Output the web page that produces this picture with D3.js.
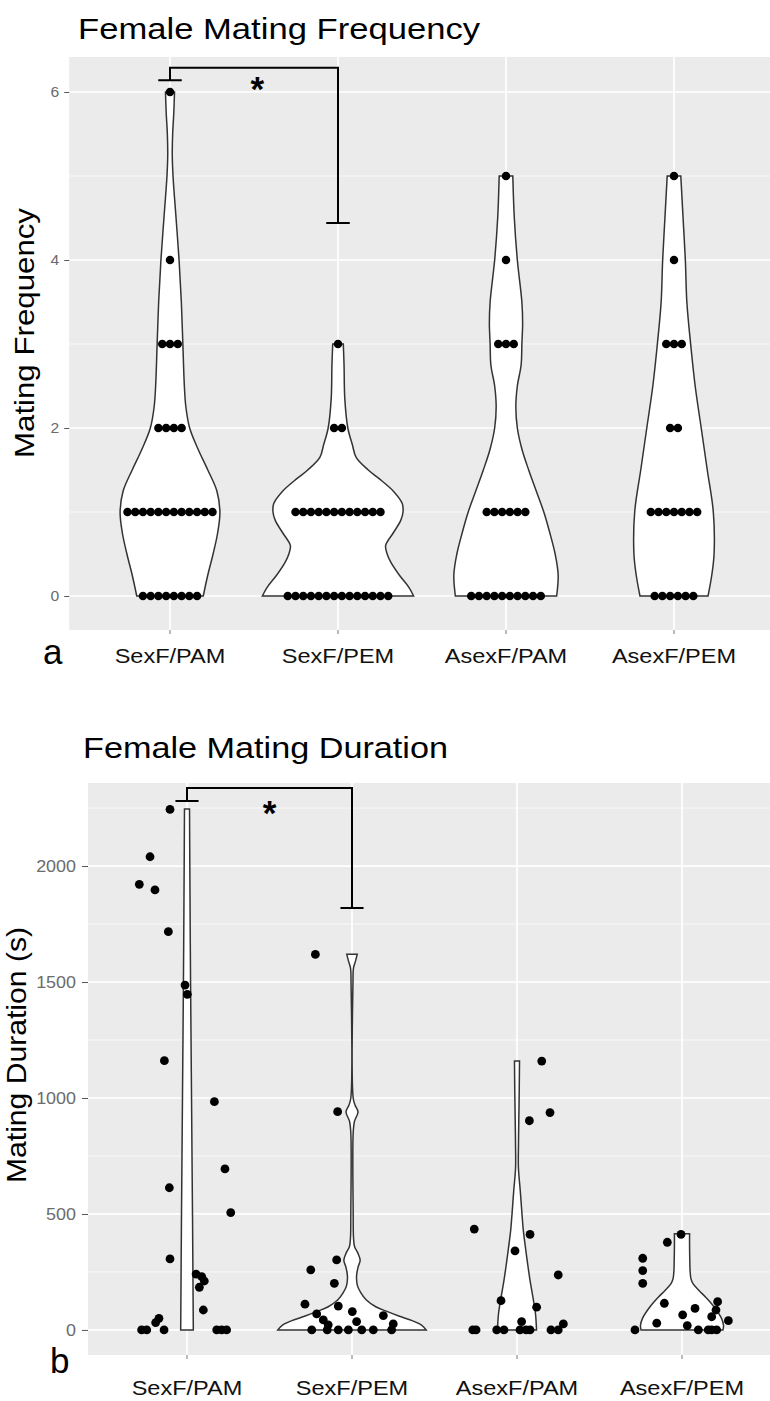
<!DOCTYPE html>
<html>
<head>
<meta charset="utf-8">
<script src="https://cdn.jsdelivr.net/npm/d3@7"></script>
<style>
  body { margin: 0; background: #fff; }
  svg text { font-family: "Liberation Sans", Arial, Helvetica, sans-serif; }
</style>
</head>
<body>
<svg id="chart" width="770" height="1401"></svg>
<script>
// ---- data ----
let categories = ["SexF/PAM", "SexF/PEM", "AsexF/PAM", "AsexF/PEM"];

// panel a: counts per mating-frequency level (dot plot)
let freqLevels  = [0, 1, 2, 3, 4, 5, 6];
let freqSexPAM  = [8, 12, 4, 3, 1, 0, 1];
let freqSexPEM  = [14, 12, 2, 1, 0, 0, 0];
let freqAsexPAM = [10, 6, 0, 3, 1, 1, 0];
let freqAsexPEM = [6, 7, 2, 3, 1, 1, 0];
let freqTicks = [0, 2, 4, 6];
let freqMinor = [1, 3, 5];

// violin outlines: [value, relative width]
let vFreqSexPAM  = [[0,0.44],[0.25,0.50],[0.5,0.57],[0.75,0.63],[1,0.66],[1.25,0.62],[1.5,0.50],[1.75,0.37],[2,0.26],[2.25,0.21],[2.5,0.19],[3,0.17],[3.5,0.15],[4,0.12],[4.5,0.08],[5,0.04],[5.25,0.03],[5.5,0.035],[5.75,0.05],[6,0.06]];
let vFreqSexPEM  = [[0,1.0],[0.1,0.94],[0.25,0.81],[0.4,0.70],[0.5,0.65],[0.6,0.63],[0.75,0.73],[0.9,0.83],[1,0.86],[1.1,0.85],[1.25,0.73],[1.4,0.54],[1.5,0.40],[1.65,0.24],[1.8,0.19],[2,0.13],[2.35,0.09],[2.75,0.08],[3,0.07]];
let vFreqAsexPAM = [[0,0.67],[0.25,0.69],[0.5,0.65],[0.75,0.58],[1,0.50],[1.25,0.40],[1.5,0.30],[1.75,0.21],[2,0.15],[2.25,0.13],[2.5,0.15],[2.75,0.20],[3,0.21],[3.25,0.22],[3.5,0.21],[4,0.15],[4.5,0.11],[5,0.09]];
let vFreqAsexPEM = [[0,0.45],[0.25,0.50],[0.5,0.53],[1,0.52],[1.5,0.44],[2,0.36],[2.5,0.28],[3,0.22],[3.5,0.17],[4,0.15],[4.5,0.12],[5,0.09]];

// panel b: mating duration (s), points as [jitter, value]
let durSexPAM  = [[-0.103,2244],[-0.224,2040],[-0.289,1921],[-0.194,1897],[-0.113,1717],[-0.012,1487],[0.002,1447],[-0.137,1161],[0.166,984],[0.230,694],[-0.107,613],[0.265,506],[-0.103,306],[0.055,241],[0.089,230],[0.105,211],[0.075,184],[0.099,86],[-0.170,50],[-0.190,32],[-0.275,0],[-0.244,0],[-0.139,0],[0.180,0],[0.210,0],[0.240,0]];
let durSexPEM  = [[-0.222,1619],[-0.087,941],[-0.093,302],[-0.25,259],[-0.107,201],[-0.285,111],[-0.083,103],[-0.214,69],[0.002,79],[0.19,62],[-0.174,43],[0.028,36],[-0.144,22],[0.25,26],[-0.244,0],[-0.15,0],[-0.083,0],[-0.022,0],[0.059,0],[0.129,0],[0.24,0]];
let durAsexPAM = [[0.15,1159],[0.2,937],[0.075,902],[-0.259,435],[0.079,412],[-0.012,341],[0.25,237],[-0.097,126],[0.119,98],[0.028,36],[0.281,26],[-0.268,0],[-0.248,0],[-0.123,0],[-0.079,0],[0.018,0],[0.055,0],[0.079,0],[0.206,0],[0.25,0]];
let durAsexPEM = [[-0.006,412],[-0.089,378],[-0.238,309],[-0.238,256],[-0.238,201],[-0.107,115],[0.079,93],[0.216,122],[0.206,86],[0.004,65],[0.18,57],[-0.153,29],[0.281,40],[0.032,19],[-0.285,0],[0.099,0],[0.159,0],[0.18,0],[0.21,0]];
let durTicks = [0, 500, 1000, 1500, 2000];
let durMinor = [250, 750, 1250, 1750, 2250];

let vDurSexPAM  = [[0,0.085],[500,0.074],[1000,0.061],[1500,0.048],[2000,0.038],[2246,0.034]];
let vDurSexPEM  = [[0,1.0],[20,0.94],[40,0.81],[60,0.63],[80,0.47],[100,0.32],[130,0.19],[160,0.12],[190,0.074],[230,0.061],[270,0.081],[300,0.11],[330,0.081],[360,0.034],[400,0.02],[500,0.016],[850,0.016],[900,0.034],[940,0.081],[970,0.04],[1000,0.016],[1500,0.013],[1560,0.02],[1590,0.047],[1620,0.071]];
let vDurAsexPAM = [[0,0.263],[70,0.249],[140,0.215],[215,0.175],[290,0.141],[360,0.112],[430,0.085],[500,0.067],[600,0.044],[700,0.019],[800,0.02],[900,0.024],[1030,0.03],[1160,0.034]];
let vDurAsexPEM = [[0,0.552],[20,0.559],[50,0.532],[100,0.431],[140,0.323],[170,0.229],[200,0.148],[220,0.121],[260,0.108],[300,0.105],[360,0.102],[415,0.102]];

// significance brackets: [from, to, top, leftEnd, rightEnd]
let freqBracket = [0, 1, 6.29, 6.14, 4.44];
let durBracket  = [0, 1, 2336, 2280, 1819];


// ---- layout ----
let kPanelA = { left: 69.2, right: 774.8, top: 57, bottom: 630, y0: 596, y6: 92 };
let kPanelB = { left: 88, right: 781, top: 783, bottom: 1355 };

let svg = d3.select("#chart");

function stretch(sel, sx){
  sel.each(function(){
    let w = this.getComputedTextLength();
    this.setAttribute("textLength", w * sx);
    this.setAttribute("lengthAdjust", "spacingAndGlyphs");
  });
}

function fitWidth(sel, w){
  sel.attr("textLength", w).attr("lengthAdjust", "spacingAndGlyphs");
}


function drawPanel(p){
  let g = svg.append("g");

  g.append("rect")
    .attr("x", p.x.range()[0]).attr("y", p.top)
    .attr("width", 770 - p.x.range()[0]).attr("height", p.bottom - p.top)
    .attr("fill", "#EBEBEB");

  // minor horizontal grid
  g.selectAll(".minor").data(p.minor).enter().append("line")
    .attr("x1", p.x.range()[0]).attr("x2", 770)
    .attr("y1", d => p.y(d)).attr("y2", d => p.y(d))
    .attr("stroke", "#fafafa").attr("stroke-width", 0.9);

  // major grid
  g.selectAll(".major").data(p.ticks).enter().append("line")
    .attr("x1", p.x.range()[0]).attr("x2", 770)
    .attr("y1", d => p.y(d)).attr("y2", d => p.y(d))
    .attr("stroke", "#fff").attr("stroke-width", 1.7);

  g.selectAll(".vmajor").data(categories).enter().append("line")
    .attr("x1", (d, i) => p.x(i)).attr("x2", (d, i) => p.x(i))
    .attr("y1", p.top).attr("y2", p.bottom)
    .attr("stroke", "#fff").attr("stroke-width", 1.7);

  // y axis
  let ay = g.append("g")
    .attr("transform", "translate(" + p.x.range()[0] + ",0)")
    .call(d3.axisLeft(p.y).tickValues(p.ticks).tickFormat(d3.format("d"))
      .tickSize(p.tickSize).tickPadding(p.tickPad));
  ay.select(".domain").remove();
  ay.selectAll(".tick line").attr("stroke", "#555").attr("stroke-width", 1);
  ay.selectAll(".tick text")
    .attr("fill", "#6b6b6b")
    .style("font-size", p.tickFont + "px")
    .style("font-family", "Liberation Sans, Arial, sans-serif");
  stretch(ay.selectAll(".tick text"), 1.12);

  // x ticks
  g.selectAll(".xtick").data(categories).enter().append("line")
    .attr("x1", (d, i) => p.x(i)).attr("x2", (d, i) => p.x(i))
    .attr("y1", p.bottom).attr("y2", p.bottom + 4)
    .attr("stroke", "#777").attr("stroke-width", 1);

  // x labels
  let xl = g.selectAll(".xlab").data(categories).enter().append("text")
    .attr("x", (d, i) => p.x(i)).attr("y", p.xLabelY)
    .attr("text-anchor", "middle")
    .style("font-size", "21px")
    .attr("fill", "#111")
    .text(d => d);
  stretch(xl, 1.12);

  // violins
  let wScale = d3.scaleLinear().domain([0, 1]).range([0, 0.45 * (p.x(1) - p.x(0))]);
  p.violins.forEach(function(prof, i){
    let cx = p.x(i);
    let area = d3.area()
      .curve(d3.curveCatmullRom)
      .y(d => p.y(d[0]))
      .x0(d => cx - wScale(d[1]))
      .x1(d => cx + wScale(d[1]));
    g.append("path")
      .attr("d", area(prof) + "Z")
      .attr("fill", "#fff")
      .attr("stroke", "#333")
      .attr("stroke-width", 1.5);
  });

  // bracket
  let b = p.bracket;
  let cap = 0.07;
  let path = d3.path();
  path.moveTo(p.x(b[0] - cap), p.y(b[3])); path.lineTo(p.x(b[0] + cap), p.y(b[3]));
  path.moveTo(p.x(b[0]), p.y(b[3]));       path.lineTo(p.x(b[0]), p.y(b[2]));
  path.lineTo(p.x(b[1]), p.y(b[2]));       path.lineTo(p.x(b[1]), p.y(b[4]));
  path.moveTo(p.x(b[1] - cap), p.y(b[4])); path.lineTo(p.x(b[1] + cap), p.y(b[4]));
  g.append("path").attr("d", path.toString())
    .attr("fill", "none").attr("stroke", "#000").attr("stroke-width", 2);

  g.append("text")
    .attr("x", p.x(p.starX)).attr("y", p.starY)
    .attr("text-anchor", "middle")
    .style("font-size", "35px").style("font-weight", "bold")
    .text("*");

  return g;
}


// ---- panel a ----
let xA = d3.scaleLinear().domain([-0.6, 3.6]).range([kPanelA.left, kPanelA.right]);
let yA = d3.scaleLinear().domain([0, 6]).range([kPanelA.y0, kPanelA.y6]);

let gA = drawPanel({
  x: xA, y: yA, top: kPanelA.top, bottom: kPanelA.bottom,
  ticks: freqTicks, minor: freqMinor, tickSize: 5, tickPad: 5, tickFont: 14,
  xLabelY: 663,
  violins: [vFreqSexPAM, vFreqSexPEM, vFreqAsexPAM, vFreqAsexPEM],
  bracket: freqBracket, starX: 0.52, starY: 101
});

// dot plot (binaxis y, stackdir center)
let binwidth = 0.092;
let dotD = yA(0) - yA(binwidth);
[freqSexPAM, freqSexPEM, freqAsexPAM, freqAsexPEM].forEach(function(counts, i){
  let dots = [];
  counts.forEach(function(n, j){
    for (let k = 0; k < n; k++) dots.push({ level: freqLevels[j], k: k, n: n });
  });
  gA.selectAll(".dot" + i).data(dots).enter().append("circle")
    .attr("cx", d => xA(i) + (d.k - (d.n - 1) / 2) * dotD)
    .attr("cy", d => yA(d.level))
    .attr("r", dotD / 2 + 0.4)
    .attr("fill", "#000");
});

svg.append("text")
  .attr("x", 78).attr("y", 39)
  .style("font-size", "29.5px")
  .text("Female Mating Frequency")
  .call(fitWidth, 402);

svg.append("text")
  .attr("transform", "translate(34,333) rotate(-90)")
  .attr("text-anchor", "middle")
  .style("font-size", "28.5px")
  .text("Mating Frequency")
  .call(fitWidth, 250);

svg.append("text")
  .attr("x", 43).attr("y", 664)
  .style("font-size", "35px")
  .text("a");


// ---- panel b ----
let xB = d3.scaleLinear().domain([-0.6, 3.6]).range([kPanelB.left, kPanelB.right]);
let yB = d3.scaleLinear().domain([-108, 2358]).range([kPanelB.bottom, kPanelB.top]);

let gB = drawPanel({
  x: xB, y: yB, top: kPanelB.top, bottom: kPanelB.bottom,
  ticks: durTicks, minor: durMinor, tickSize: 6, tickPad: 6, tickFont: 16,
  xLabelY: 1395,
  violins: [vDurSexPAM, vDurSexPEM, vDurAsexPAM, vDurAsexPEM],
  bracket: durBracket, starX: 0.5, starY: 825
});

[durSexPAM, durSexPEM, durAsexPAM, durAsexPEM].forEach(function(pts, i){
  gB.selectAll(".pt" + i).data(pts).enter().append("circle")
    .attr("cx", d => xB(i + d[0]))
    .attr("cy", d => yB(d[1]))
    .attr("r", 4.4)
    .attr("fill", "#000");
});

svg.append("text")
  .attr("x", 83).attr("y", 758)
  .style("font-size", "29px")
  .text("Female Mating Duration")
  .call(fitWidth, 365);

svg.append("text")
  .attr("transform", "translate(26,1055) rotate(-90)")
  .attr("text-anchor", "middle")
  .style("font-size", "28px")
  .text("Mating Duration (s)")
  .call(fitWidth, 256);

svg.append("text")
  .attr("x", 50).attr("y", 1373)
  .style("font-size", "35px")
  .text("b");
</script>
</body>
</html>
